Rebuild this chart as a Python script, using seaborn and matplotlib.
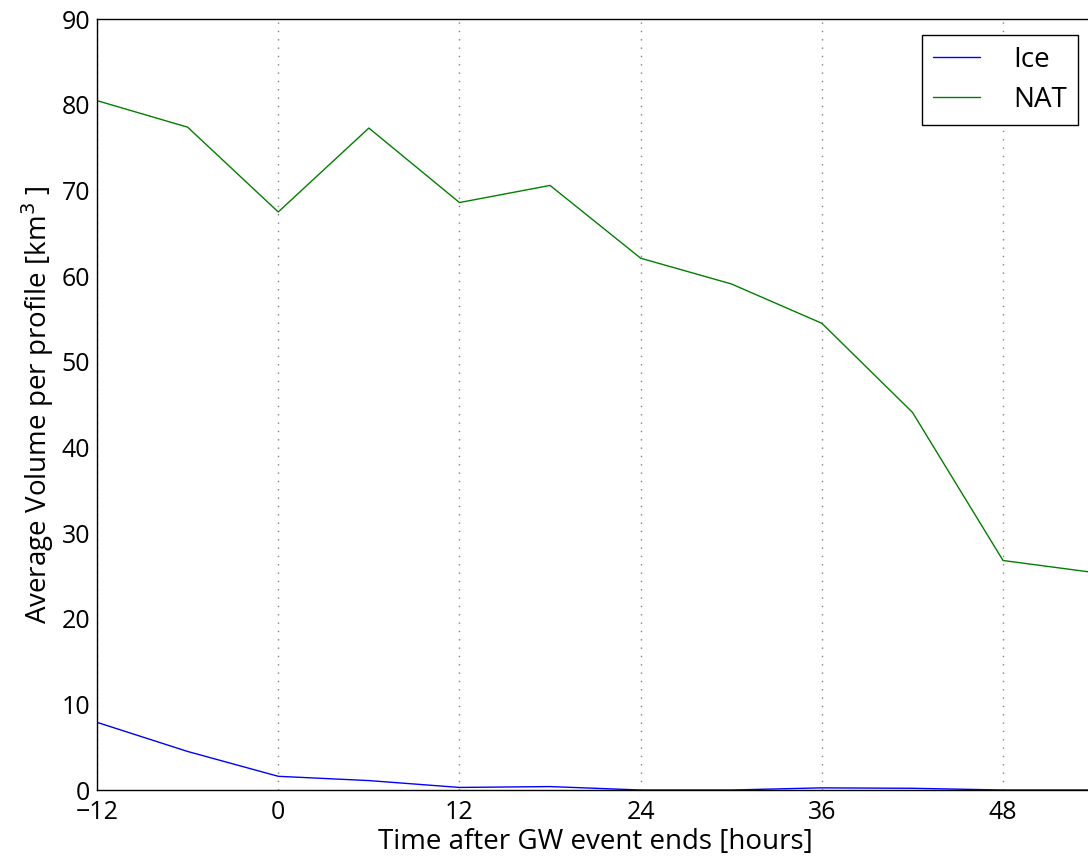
import pandas as pd
import numpy as np
import matplotlib
matplotlib.use('Agg')
import matplotlib.pyplot as plt
import seaborn as sns

hours = [-12, -6, 0, 6, 12, 18, 24, 30, 36, 42, 48, 54]
ice = [7.9, 4.5, 1.6, 1.1, 0.3, 0.4, 0.0, 0.0, 0.25, 0.2, 0.0, 0.0]
nat = [80.5, 77.4, 67.5, 77.3, 68.6, 70.6, 62.1, 59.1, 54.5, 44.1, 26.8, 25.4]
xticks = [-12, 0, 12, 24, 36, 48]
yticks = [0, 10, 20, 30, 40, 50, 60, 70, 80, 90]

sns.set_style('white')
plt.rcParams['font.family'] = ['Open Sans', 'DejaVu Sans']
plt.rcParams['text.color'] = 'black'
plt.rcParams['axes.labelcolor'] = 'black'
plt.rcParams['xtick.color'] = 'black'
plt.rcParams['ytick.color'] = 'black'

df = pd.DataFrame({'hours': hours * 2,
                   'vol': ice + nat,
                   'type': ['Ice'] * len(hours) + ['NAT'] * len(hours)})

fig = plt.figure(figsize=(10.88, 8.65), dpi=100)
ax = fig.add_axes([0.0892, 0.0867, 0.916, 0.891])
sns.lineplot(data=df, x='hours', y='vol', hue='type',
             palette={'Ice': 'blue', 'NAT': 'green'}, linewidth=1, ax=ax)

ax.set_xlim(-12, 54)
ax.set_ylim(0, 90)
ax.set_xticks(xticks)
ax.set_yticks(yticks)
ax.set_xticklabels(['\u221212' if t < 0 else str(t) for t in xticks])
ax.tick_params(labelsize=18, length=0)
ax.tick_params(axis='x', pad=7)
ax.tick_params(axis='y', pad=5)
ax.xaxis.grid(True, linestyle=(0, (1, 5)), color='gray', linewidth=1)
ax.yaxis.grid(False)
for s in ax.spines.values():
    s.set_color('black')
    s.set_linewidth(1)

ax.set_xlabel('Time after GW event ends [hours]', fontsize=20, labelpad=2)
ax.set_ylabel('Average Volume per profile [km$^3$ ]', fontsize=20)

leg = ax.legend(loc='upper right', fontsize=20, fancybox=False,
                framealpha=1, edgecolor='black', handlelength=1.7,
                handletextpad=1.2, borderpad=0.4, labelspacing=0.45,
                borderaxespad=0.55)
leg.get_frame().set_linewidth(1)

fig.savefig('out.png', dpi=100)
